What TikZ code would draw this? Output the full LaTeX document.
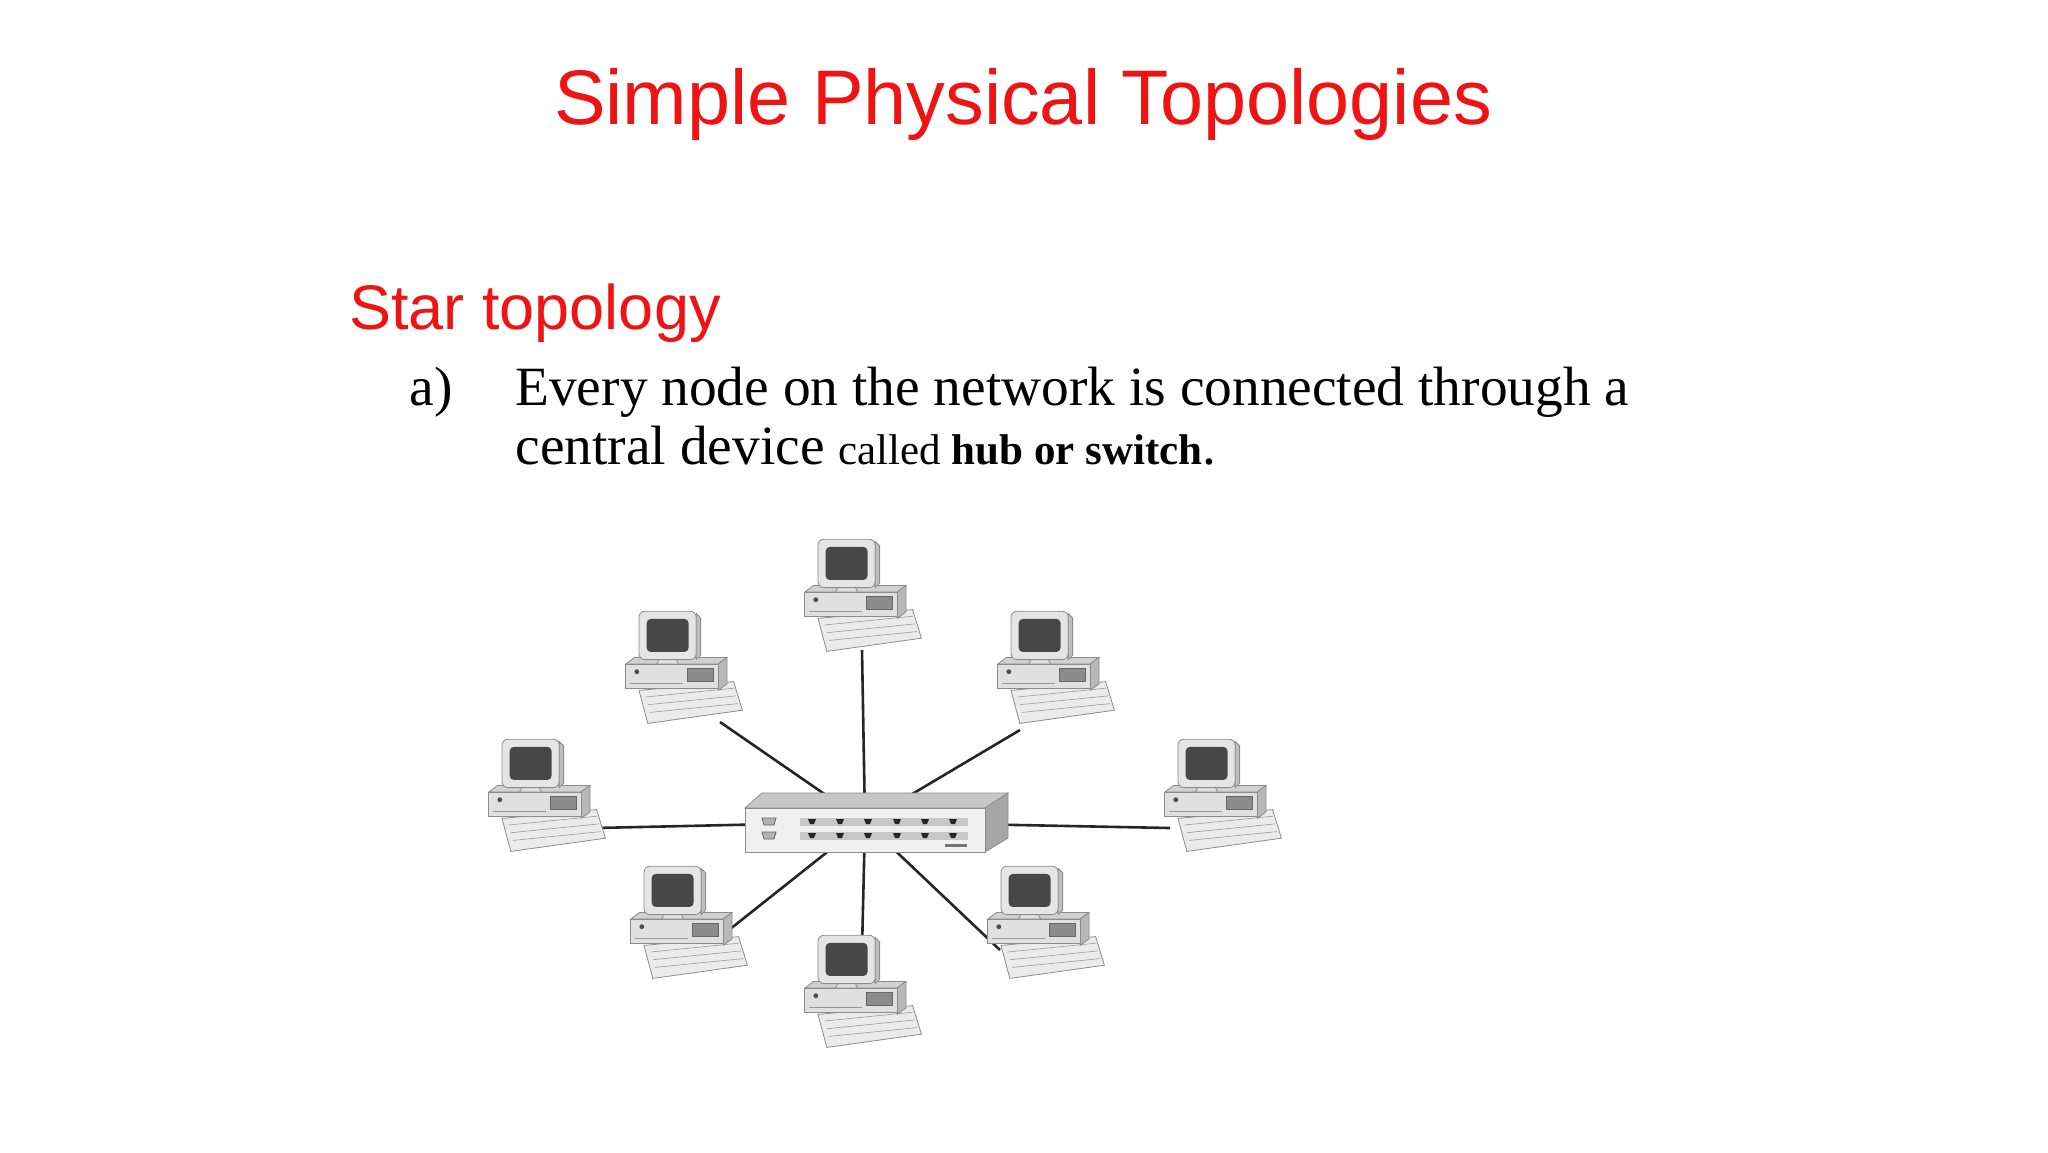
\documentclass[tikz,border=0pt]{standalone}
\usepackage{fontspec}
\setmainfont{Liberation Serif}
\newfontfamily\arialf{Liberation Sans}
\definecolor{tred}{RGB}{238,20,20}
\begin{document}
\begin{tikzpicture}[x=0.5pt,y=-0.5pt,
  link/.style={line width=1.3pt,black!85},
  pc/.style={minimum width=56pt,minimum height=56pt,inner sep=0pt},
  shell/.style={fill=black!12,draw=black!45,line width=0.4pt},
  computer/.pic={
    % keyboard
    \draw[shell,fill=black!8] (-40,14) -- (46,6) -- (54,32) -- (-32,44) -- cycle;
    \draw[black!40,line width=0.3pt] (-34,20) -- (46,12) (-32,27) -- (48,19) (-30,34) -- (50,26);
    % base unit
    \draw[shell,fill=black!18] (-52,-10) -- (-44,-16) -- (40,-16) -- (32,-10) -- cycle;
    \draw[shell,fill=black!28] (32,-10) -- (40,-16) -- (40,8) -- (32,14) -- cycle;
    \draw[shell] (-52,-10) rectangle (32,12);
    \fill[black!70] (-42,-3) circle (2.2);
    \draw[black!60,fill=black!45] (4,-6) rectangle (28,6);
    \draw[black!40] (-48,8) -- (0,8);
    % monitor
    \draw[shell,fill=black!10,rounded corners=3] (-40,-58) rectangle (12,-14);
    \draw[shell,fill=black!25] (12,-56) -- (16,-52) -- (16,-18) -- (12,-14) -- cycle;
    \fill[black!72,rounded corners=2] (-33,-51) rectangle (5,-21);
    \draw[shell] (-22,-14) -- (-6,-14) -- (-4,-10) -- (-24,-10) -- cycle;
  }]
\useasboundingbox (0,0) rectangle (2048,1152);
% texts
\node[anchor=base,text=tred,inner sep=0pt,font=\arialf\fontsize{38.7}{44}\selectfont] (title) at (1023,124) {Simple Physical Topologies};
\node[anchor=base west,text=tred,inner sep=0pt,font=\arialf\fontsize{31.5}{36}\selectfont] (sub) at (349,329) {Star topology};
\node[anchor=base west,inner sep=0pt,font=\fontsize{27.7}{30}\selectfont] (lab) at (409,405) {a)};
\node[anchor=base west,inner sep=0pt,font=\fontsize{27.7}{30}\selectfont] (l1) at (515,405) {Every node on the network is connected through a};
\node[anchor=base west,inner sep=0pt,font=\fontsize{27.7}{30}\selectfont] (l2) at (515,464) {central device {\fontsize{21.5}{24}\selectfont called \textbf{hub or switch}}.};
% nodes
\node[pc] (hub) at (865,822) {};
\node[pc] (c1) at (862,603) {};
\node[pc] (c2) at (683,675) {};
\node[pc] (c3) at (1055,675) {};
\node[pc] (c4) at (546,803) {};
\node[pc] (c5) at (1222,803) {};
\node[pc] (c6) at (688,930) {};
\node[pc] (c7) at (862,999) {};
\node[pc] (c8) at (1045,930) {};
% links
\coordinate (k1) at (862,650);
\coordinate (k2) at (720,722);
\coordinate (k3) at (1020,730);
\coordinate (k4) at (595,828);
\coordinate (k5) at (1170,828);
\coordinate (k6) at (710,945);
\coordinate (k7) at (862,950);
\coordinate (k8) at (1000,950);
\foreach \i in {1,...,8} \draw[link] (hub.center) -- (k\i);
% hub
\draw[shell,fill=black!22] (745,808) -- (762,793) -- (1008,793) -- (985,808) -- cycle;
\draw[shell,fill=black!35] (985,808) -- (1008,793) -- (1008,838) -- (985,852) -- cycle;
\draw[shell,fill=black!6] (745,808) rectangle (985,852);
\foreach \yy in {822,836} {
  \fill[black!22] (800,\yy-4) rectangle (968,\yy+4);
  \foreach \xx in {812,840,868,897,925,953}
    \fill[black!85] (\xx-4,\yy-3) -- (\xx+4,\yy-3) -- (\xx+2,\yy+2) -- (\xx-2,\yy+2) -- cycle;
  \draw[black!60,fill=black!30] (762,\yy-4) -- (776,\yy-4) -- (774,\yy+3) -- (764,\yy+3) -- cycle;
}
\fill[black!55] (945,844) rectangle (967,847);
% computers
\foreach \i in {1,...,8} \pic[scale=1.1] at (c\i) {computer};
\end{tikzpicture}
\end{document}
